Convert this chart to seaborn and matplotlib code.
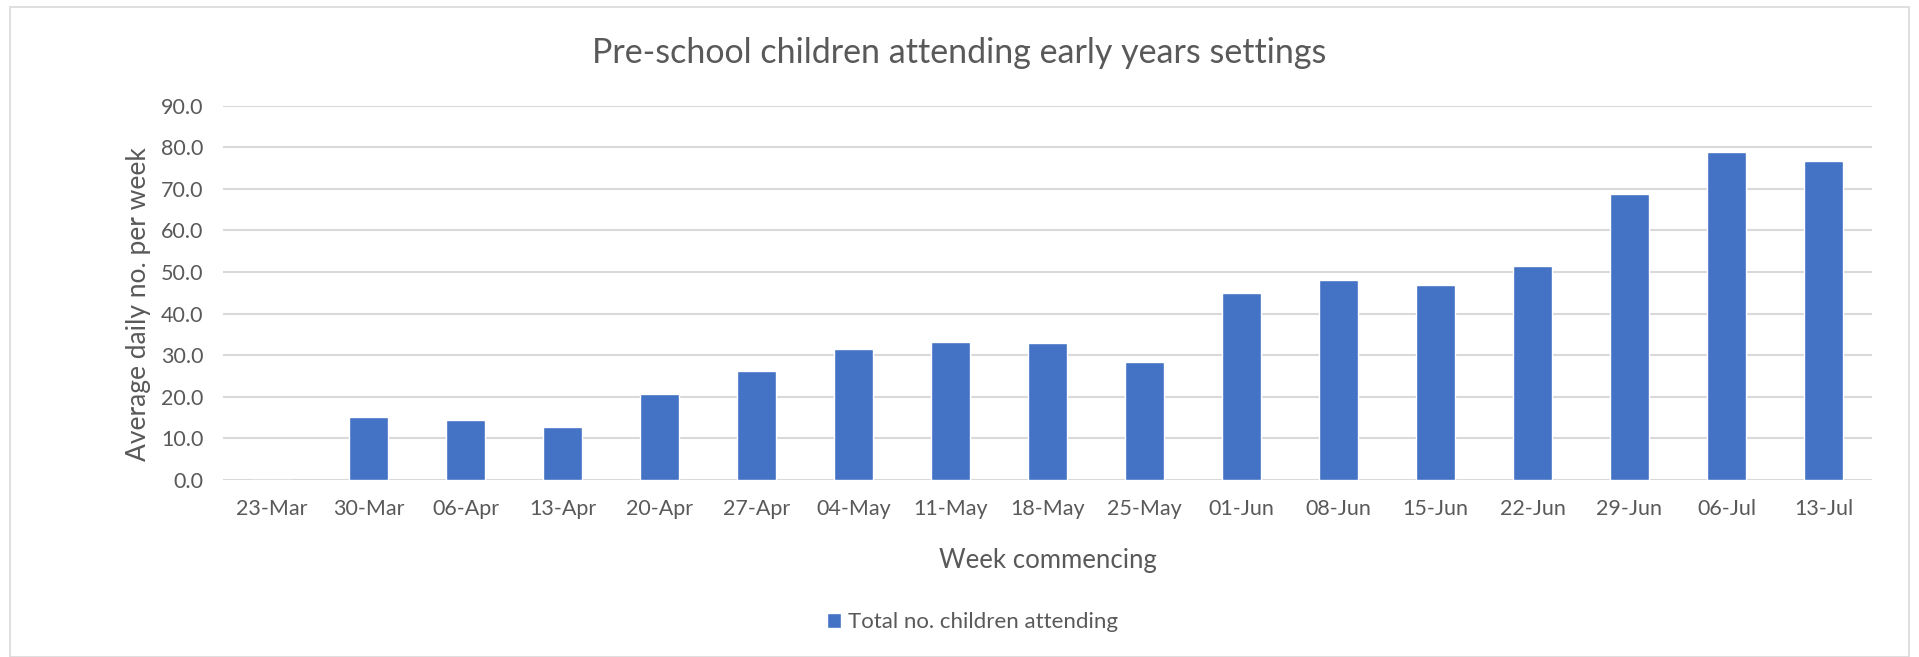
import matplotlib
matplotlib.use("Agg")
import matplotlib.pyplot as plt
import seaborn as sns
import pandas as pd
from matplotlib.patches import Rectangle
from matplotlib.ticker import FormatStrFormatter

weeks = ['23-Mar', '30-Mar', '06-Apr', '13-Apr', '20-Apr', '27-Apr', '04-May', '11-May',
         '18-May', '25-May', '01-Jun', '08-Jun', '15-Jun', '22-Jun', '29-Jun', '06-Jul', '13-Jul']
attending = [0.0, 15.2, 14.5, 12.7, 20.7, 26.1, 31.5, 33.3,
             32.9, 28.4, 44.9, 48.1, 46.8, 51.5, 68.8, 78.9, 76.6]

df = pd.DataFrame({'Week': weeks, 'Attending': attending})

sns.set_style('white')
plt.rcParams['font.family'] = ['Lato', 'DejaVu Sans']
text_col = '#595959'

fig = plt.figure(figsize=(19.19, 6.57), dpi=100)
ax = fig.add_axes([0.1162, 0.2694, 0.8593, 0.5697])

sns.barplot(data=df, x='Week', y='Attending', color='#4472C4', saturation=1, width=0.40,
            label='Total no. children attending', ax=ax, zorder=3)

ax.set_ylim(0, 90)
ax.set_yticks(range(0, 91, 10))
ax.yaxis.set_major_formatter(FormatStrFormatter('%.1f'))
ax.set_xlim(-0.5, len(weeks) - 0.5)
ax.grid(axis='y', color='#D9D9D9', linewidth=1.5, zorder=0)
ax.grid(axis='x', visible=False)
for s in ax.spines.values():
    s.set_visible(False)
ax.tick_params(axis='both', length=0, labelsize=15.5, colors=text_col)
ax.tick_params(axis='x', pad=14)
ax.tick_params(axis='y', pad=14)

ax.set_xlabel('Week commencing', fontsize=18.5, color=text_col, va='center')
ax.xaxis.set_label_coords(0.5, -0.215)
ax.set_ylabel('Average daily no. per week', fontsize=19, color=text_col, va='center')
ax.yaxis.set_label_coords(-0.0515, 0.47)

fig.suptitle('Pre-school children attending early years settings', fontsize=24.5,
             color=text_col, y=0.92, va='center')

ax.get_legend().remove()
handles, labels = ax.get_legend_handles_labels()
fig.legend(handles, labels, loc='center', bbox_to_anchor=(0.5066, 0.053), frameon=False,
           fontsize=16, handlelength=0.65, handleheight=0.65, handletextpad=0.3,
           labelcolor=text_col)

fig.patches.append(Rectangle((0.005, 0.0), 0.99, 0.99, transform=fig.transFigure,
                             fill=False, edgecolor='#D9D9D9', linewidth=1.2))

fig.savefig('out.png', dpi=100, facecolor='white')
